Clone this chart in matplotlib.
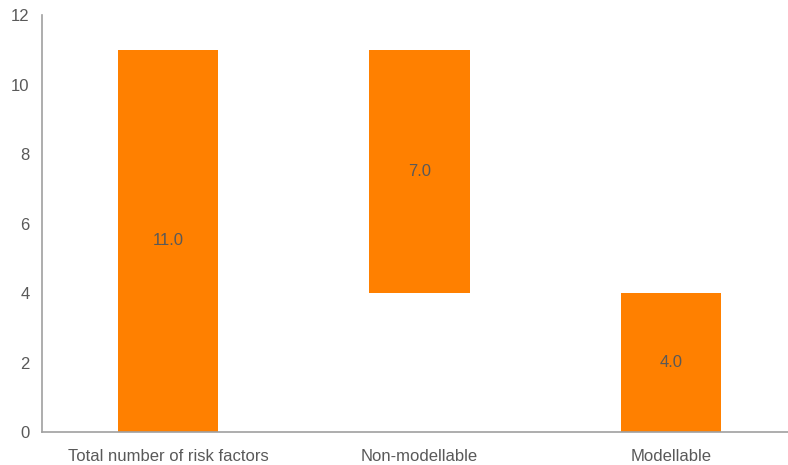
import numpy as np
import matplotlib.pyplot as plt

plt.rcParams['font.family'] = ['Liberation Sans', 'DejaVu Sans']

categories = ["Total number of risk factors", "Non-modellable", "Modellable"]
values = [11.0, 7.0, 4.0]
bases = [0.0, 4.0, 0.0]

orange = "#FF8000"
text_grey = "#595959"

fig = plt.figure(figsize=(7.88, 4.65), dpi=100)
ax = fig.add_axes([42 / 788, 33 / 465, 1 - 42 / 788, (432 - 15) / 465])

x = np.arange(len(categories))
bars = ax.bar(x, values, bottom=bases, width=0.398, color=orange)

for b, v, base in zip(bars, values, bases):
    ax.text(b.get_x() + b.get_width() / 2, base + v / 2, f"{v:.1f}",
            ha="center", va="center", fontsize=12, color=text_grey)

ax.set_xlim(-0.501, 2.465)
ax.set_ylim(0, 12)
ax.set_yticks(range(0, 13, 2))
ax.set_xticks(x)
ax.set_xticklabels(categories)

for side in ["top", "right"]:
    ax.spines[side].set_visible(False)
for side in ["left", "bottom"]:
    ax.spines[side].set_color("#A0A0A0")
    ax.spines[side].set_linewidth(1.2)

ax.tick_params(axis="both", length=0, labelsize=12, labelcolor=text_grey)
ax.tick_params(axis="y", pad=9)
ax.tick_params(axis="x", pad=12)

fig.savefig("out.png", dpi=100)
